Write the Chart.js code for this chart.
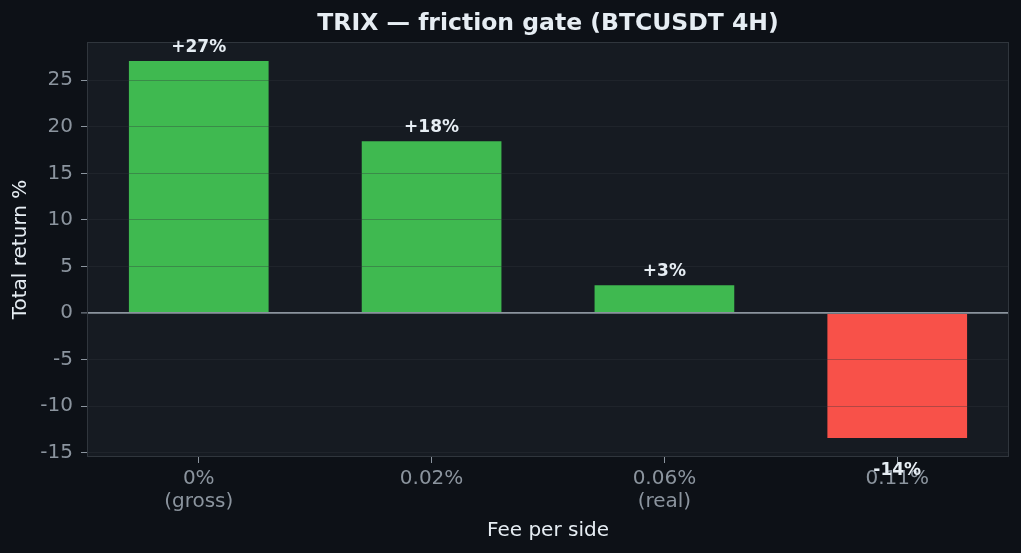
<!DOCTYPE html>
<html>
<head>
<meta charset="utf-8">
<script src="https://cdn.jsdelivr.net/npm/chart.js@4"></script>
<style>
  html, body { margin: 0; padding: 0; background: #0d1117; }
  #wrap { width: 1021px; height: 553px; position: relative; }
</style>
</head>
<body>
<div id="wrap"><canvas id="c"></canvas></div>
<script>
const categories = [["0%", "(gross)"], ["0.02%"], ["0.06%", "(real)"], ["0.11%"]];
const returns = [27.05, 18.45, 3.0, -13.4];
const barLabels = ["+27%", "+18%", "+3%", "-14%"];
const yTickValues = [-15, -10, -5, 0, 5, 10, 15, 20, 25];
const xTickValues = [0, 1, 2, 3];

const FONT = "'DejaVu Sans', 'Liberation Sans', sans-serif";
const TXT = '#e6edf3';
const MUTED = '#8b949e';

const framePlugin = {
  id: 'frame',
  beforeDraw(chart) {
    const { ctx, chartArea: a } = chart;
    ctx.save();
    ctx.fillStyle = '#0d1117';
    ctx.fillRect(0, 0, chart.width, chart.height);
    ctx.fillStyle = '#161b22';
    ctx.fillRect(a.left, a.top, a.right - a.left, a.bottom - a.top);
    ctx.restore();
  },
  afterDraw(chart) {
    const { ctx, chartArea: a } = chart;
    ctx.save();
    ctx.strokeStyle = '#30363d';
    ctx.lineWidth = 1;
    ctx.strokeRect(a.left + 0.5, a.top + 0.5, a.right - a.left - 1, a.bottom - a.top - 1);
    // title
    ctx.fillStyle = TXT;
    ctx.font = "bold 23.5px " + FONT;
    ctx.textAlign = 'center';
    ctx.textBaseline = 'middle';
    ctx.fillText('TRIX — friction gate (BTCUSDT 4H)', (a.left + a.right) / 2, 23.5);
    // bar labels
    ctx.font = "bold 17px " + FONT;
    ctx.textBaseline = 'alphabetic';
    const meta = chart.getDatasetMeta(0);
    meta.data.forEach((el, i) => {
      const v = returns[i];
      const y = v >= 0 ? el.y - 9.5 : el.y + 37;
      ctx.fillText(barLabels[i], el.x, y);
    });
    ctx.restore();
  }
};

new Chart(document.getElementById('c'), {
  type: 'bar',
  data: {
    datasets: [{
      data: returns.map((v, i) => ({ x: i, y: v })),
      backgroundColor: returns.map(v => v >= 0 ? '#3fb950' : '#f85149'),
      borderWidth: 0,
      barPercentage: 0.6,
      categoryPercentage: 1.0
    }]
  },
  options: {
    responsive: true,
    maintainAspectRatio: false,
    animation: false,
    devicePixelRatio: 1,
    layout: { padding: { left: 0, right: 12, top: 42, bottom: 0 } },
    plugins: {
      legend: { display: false },
      title: { display: false },
      tooltip: { enabled: false }
    },
    scales: {
      x: {
        type: 'linear',
        min: -0.48,
        max: 3.48,
        offset: false,
        afterBuildTicks(scale) { scale.ticks = xTickValues.map(v => ({ value: v })); },
        afterFit(scale) { scale.height = 96; },
        ticks: {
          color: MUTED,
          font: { family: FONT, size: 20, lineHeight: 1.15 },
          padding: 4,
          maxRotation: 0,
          autoSkip: false,
          callback: (v) => categories[v]
        },
        grid: {
          display: true,
          offset: false,
          drawOnChartArea: false,
          drawTicks: true,
          tickLength: 6,
          tickColor: MUTED,
          tickWidth: 1
        },
        border: { display: false },
        title: {
          display: true,
          text: 'Fee per side',
          color: TXT,
          font: { family: FONT, size: 20 },
          padding: { top: 0, bottom: 10 }
        }
      },
      y: {
        min: -15.45,
        max: 29.1,
        afterBuildTicks(scale) { scale.ticks = yTickValues.map(v => ({ value: v })); },
        afterFit(scale) { scale.width = 87; },
        ticks: {
          color: MUTED,
          font: { family: FONT, size: 20 },
          padding: 8,
          callback: (v) => String(v)
        },
        grid: {
          z: 1,
          color: (ctx) => (ctx.tick && ctx.tick.value === 0) ? MUTED : 'rgba(48,54,61,0.35)',
          lineWidth: (ctx) => (ctx.tick && ctx.tick.value === 0) ? 1.8 : 1,
          tickColor: MUTED,
          tickLength: 6,
          tickWidth: 1,
          drawTicks: true
        },
        border: { display: false },
        title: {
          display: true,
          text: 'Total return %',
          color: TXT,
          font: { family: FONT, size: 20 },
          padding: { top: 9, bottom: 0 }
        }
      }
    }
  },
  plugins: [framePlugin]
});
</script>
</body>
</html>
